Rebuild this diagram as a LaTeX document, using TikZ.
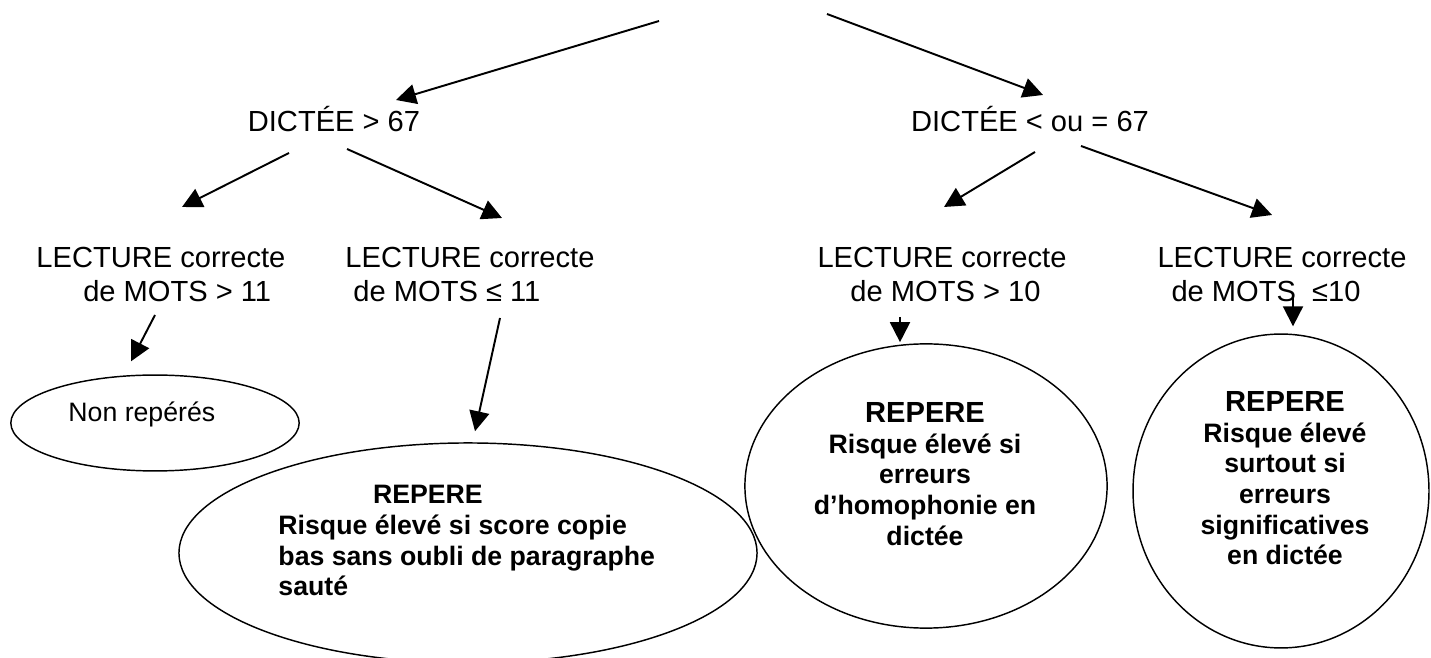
\documentclass[tikz,border=0pt]{standalone}
\usepackage{fontspec}
\setmainfont{Liberation Sans}
\usetikzlibrary{arrows.meta,shapes,positioning}

\tikzset{
  lbl/.style={inner sep=0pt, font=\fontsize{12}{13.8}\selectfont},
  rep/.style={inner sep=0pt, font=\fontsize{11}{12.65}\selectfont\bfseries},
  oval/.style={draw, ellipse, line width=0.6pt, inner sep=0pt},
  arr/.style={line width=0.8pt, -{Triangle[length=2.9mm, width=2.9mm]}}
}

\begin{document}
\begin{tikzpicture}[x=0.0145cm, y=-0.0145cm]
\useasboundingbox (0,0) rectangle (1431,658);

\coordinate (topL) at (659,21);
\coordinate (topR) at (827,14);

\node [lbl, anchor=base] (d67) at (334,132) {DICTÉE > 67};
\node [lbl, anchor=base] (d67b) at (1030,132) {DICTÉE < ou = 67};

\node [lbl, align=left, anchor=north west] (lec1) at (36,247) {LECTURE correcte\\\hspace*{19.3pt}de MOTS > 11};
\node [lbl, align=left, anchor=north west] (lec2) at (345,247) {LECTURE correcte\\\hspace*{3.3pt}de MOTS ≤ 11};
\node [lbl, align=left, anchor=north west] (lec3) at (817,247) {LECTURE correcte\\\hspace*{13.6pt}de MOTS > 10};
\node [lbl, align=left, anchor=north west] (lec4) at (1157,247) {LECTURE correcte\\\hspace*{5.8pt}de MOTS~~≤10};

\node [oval, minimum width=4.18cm, minimum height=1.39cm] (ovNon) at (155,423) {};
\node [oval, minimum width=8.38cm, minimum height=3.19cm] (ovScore) at (468,553) {};
\node [oval, minimum width=5.25cm, minimum height=4.12cm] (ovHomo) at (926,486) {};
\node [oval, minimum width=4.29cm, minimum height=4.55cm] (ovSign) at (1281,491) {};

\node [lbl, font=\fontsize{11}{12.65}\selectfont, anchor=base west] (txNon) at (68,422) {Non repérés};
\node [rep, align=left, anchor=north west] (txScore) at (278,485) {\hspace*{39pt}REPERE\\Risque élevé si score copie\\bas sans oubli de paragraphe\\sauté};
\node [rep, align=center, anchor=north] (txHomo) at (925,402) {{\fontsize{12}{13.8}\selectfont REPERE}\\Risque élevé si\\erreurs\\d’homophonie en\\dictée};
\node [rep, align=center, anchor=north] (txSign) at (1285,391) {{\fontsize{12}{13.8}\selectfont REPERE}\\Risque élevé\\surtout si\\erreurs\\significatives\\en dictée};

\draw [arr] (topL) -- ([shift={(62,-32)}]d67.base);
\draw [arr] (topR) -- ([shift={(13,-37)}]d67b.base);

\draw [arr] ([shift={(-45,21)}]d67.base) -- ([shift={(146,-40)}]lec1.north west);
\draw [arr] ([shift={(13,17)}]d67.base) -- ([shift={(157,-29)}]lec2.north west);
\draw [arr] ([shift={(5,20)}]d67b.base) -- ([shift={(127,-40)}]lec3.north west);
\draw [arr] ([shift={(51,14)}]d67b.base) -- ([shift={(115,-32)}]lec4.north west);

\draw [arr] ([shift={(119,68)}]lec1.north west) -- ([shift={(-24,-13)}]ovNon.north);
\draw [arr] ([shift={(155,71)}]lec2.north west) -- ([shift={(7,-11)}]ovScore.north);
\draw [arr] ([shift={(83,70)}]lec3.north west) -- ([shift={(-26,-1)}]ovHomo.north);
\draw [arr] ([shift={(136,50)}]lec4.north west) -- ([shift={(12,-7)}]ovSign.north);
\end{tikzpicture}
\end{document}
